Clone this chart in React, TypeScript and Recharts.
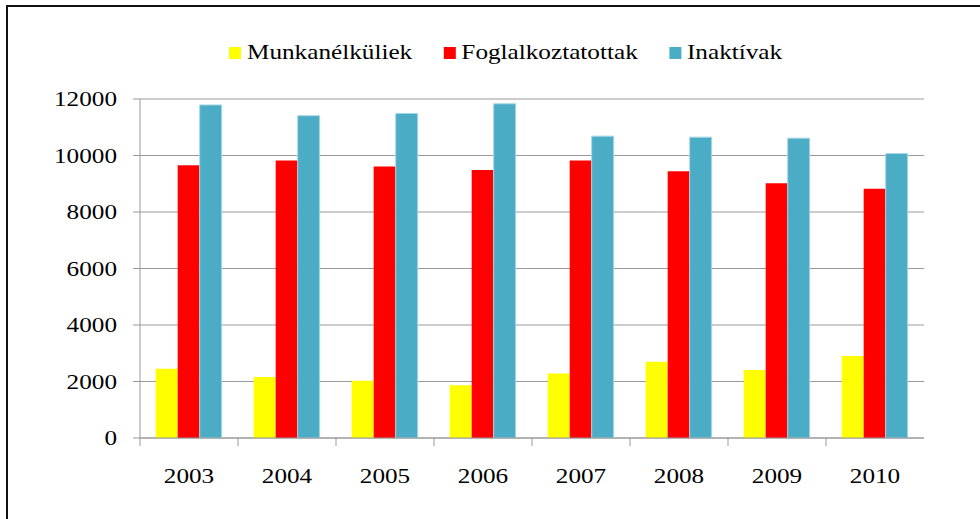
import { Bar, BarChart, CartesianGrid, Legend, XAxis, YAxis } from "recharts";

const years = ["2003", "2004", "2005", "2006", "2007", "2008", "2009", "2010"];
const seriesNames = ["Munkanélküliek", "Foglalkoztatottak", "Inaktívak"];
const munkanelkuliek = [2450, 2155, 2025, 1870, 2285, 2700, 2405, 2900];
const foglalkoztatottak = [9655, 9820, 9610, 9490, 9820, 9445, 9015, 8820];
const inaktivak = [11790, 11410, 11490, 11830, 10685, 10650, 10615, 10070];
const yTicks = [0, 2000, 4000, 6000, 8000, 10000, 12000];

const data = years.map((year, i) => ({
  year,
  Munkanélküliek: munkanelkuliek[i],
  Foglalkoztatottak: foglalkoztatottak[i],
  Inaktívak: inaktivak[i],
}));

const FONT = "'Liberation Serif', 'DejaVu Serif', serif";
const STRETCH = 1.2;
const AXIS_GRAY = "#999999";

function YTick(props: any) {
  const { x, y, payload } = props;
  return (
    <g transform={`translate(${x},${y})`}>
      <text
        transform={`scale(${STRETCH},1)`}
        textAnchor="end"
        dy={7}
        style={{ fontFamily: FONT, fontSize: 21 }}
        fill="#000"
      >
        {payload.value}
      </text>
    </g>
  );
}

function XTick(props: any) {
  const { x, y, payload } = props;
  const half = payload.offset ?? 49;
  return (
    <g transform={`translate(${x},${y})`}>
      <line x1={-half} x2={-half} y1={0} y2={8} stroke={AXIS_GRAY} strokeWidth={1} />
      <text
        transform={`scale(${STRETCH},1)`}
        textAnchor="middle"
        y={45}
        style={{ fontFamily: FONT, fontSize: 21 }}
        fill="#000"
      >
        {payload.value}
      </text>
    </g>
  );
}

function LegendBox(props: any) {
  const items = [...(props.payload ?? [])].sort(
    (a: any, b: any) => seriesNames.indexOf(a.value) - seriesNames.indexOf(b.value)
  );
  return (
    <div
      style={{
        display: "flex",
        alignItems: "center",
        whiteSpace: "nowrap",
        transform: `scaleX(${STRETCH})`,
        transformOrigin: "left top",
        fontFamily: FONT,
        fontSize: 21,
        lineHeight: "21px",
        color: "#000",
      }}
    >
      {items.map((it: any, i: number) => (
        <div
          key={it.value}
          style={{ display: "flex", alignItems: "center", marginRight: i < items.length - 1 ? 26 : 0 }}
        >
          <span style={{ display: "inline-block", width: 10, height: 12, background: it.color, marginRight: 5 }} />
          <span>{it.value}</span>
        </div>
      ))}
    </div>
  );
}

export default function App() {
  return (
    <div style={{ position: "absolute", left: 0, top: 0, width: 980, height: 519, background: "#fff" }}>
      <div
        style={{
          position: "absolute",
          left: 6,
          top: 5,
          width: 980,
          height: 530,
          borderTop: "2px solid #111",
          borderLeft: "2px solid #111",
          boxSizing: "border-box",
        }}
      />
      <BarChart
        width={980}
        height={519}
        data={data}
        margin={{ top: 99, right: 56, bottom: 31, left: 0 }}
        barCategoryGap="16%"
        barGap={0}
        style={{ position: "absolute", left: 0, top: 0 }}
      >
        <CartesianGrid vertical={false} stroke={AXIS_GRAY} strokeWidth={1} />
        <XAxis
          dataKey="year"
          height={50}
          axisLine={{ stroke: AXIS_GRAY, strokeWidth: 1 }}
          tickLine={false}
          tickSize={0}
          tickMargin={0}
          tick={<XTick />}
          interval={0}
        />
        <YAxis
          width={140}
          domain={[0, 12000]}
          ticks={yTicks}
          interval={0}
          axisLine={{ stroke: AXIS_GRAY, strokeWidth: 1 }}
          tickLine={{ stroke: AXIS_GRAY, strokeWidth: 1 }}
          tickSize={7}
          tickMargin={16}
          tick={<YTick />}
        />
        <Legend
          layout="vertical"
          align="center"
          verticalAlign="middle"
          itemSorter={null}
          content={<LegendBox />}
          wrapperStyle={{ left: 229, top: 42, width: "auto" }}
        />
        <Bar dataKey="Munkanélküliek" fill="#ffff00" isAnimationActive={false} />
        <Bar dataKey="Foglalkoztatottak" fill="#ff0000" isAnimationActive={false} />
        <Bar
          dataKey="Inaktívak"
          fill="#4bacc6"
          stroke="#a9d8e5"
          strokeWidth={1}
          isAnimationActive={false}
        />
      </BarChart>
    </div>
  );
}
